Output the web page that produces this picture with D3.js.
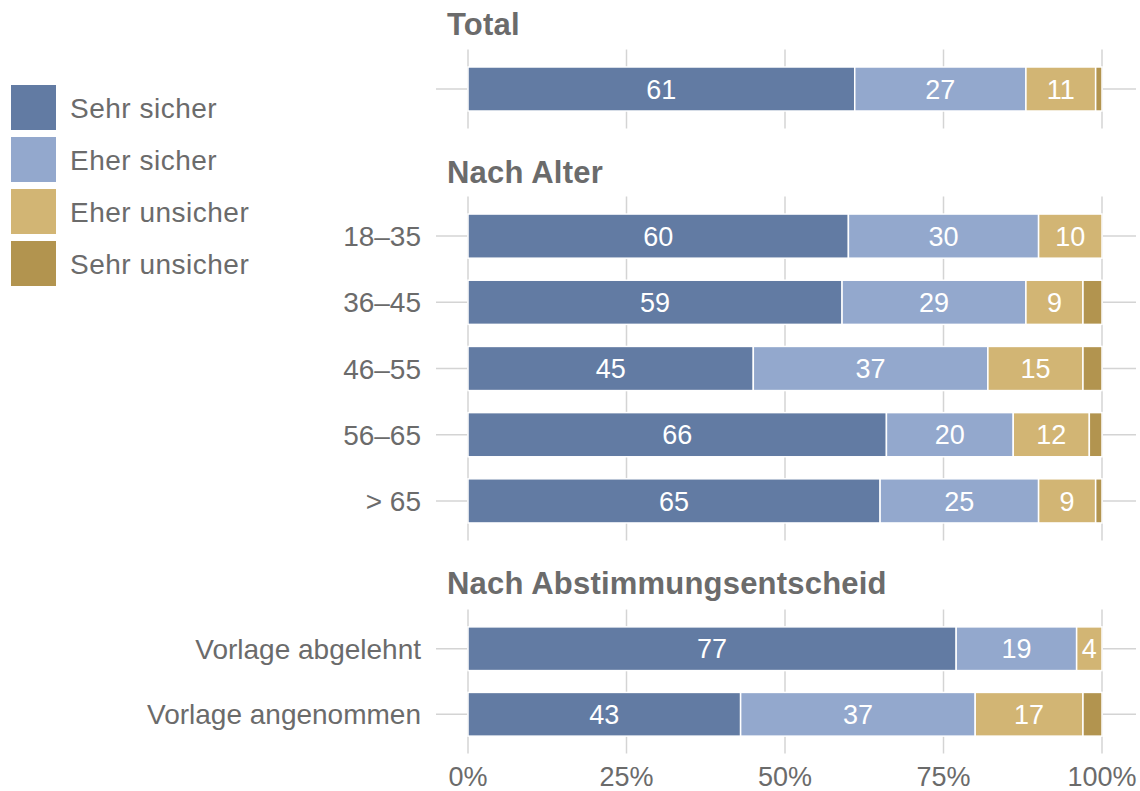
<!DOCTYPE html>
<html>
<head>
<meta charset="utf-8">
<script src="https://cdn.jsdelivr.net/npm/d3@7"></script>
<style>
  body { margin: 0; background: #fff; }
  text { font-family: "Liberation Sans", Arial, sans-serif; }
</style>
</head>
<body>
<div id="chart"></div>
<script>
// series (stacked left to right)
const seriesNames = ["Sehr sicher", "Eher sicher", "Eher unsicher", "Sehr unsicher"];
const seriesColors = ["#627ba3", "#93a8cd", "#d2b574", "#b2944f"];

// panels and rows
const panelTitles = ["Total", "Nach Alter", "Nach Abstimmungsentscheid"];
const rowLabels = ["", "18–35", "36–45", "46–55", "56–65", "> 65", "Vorlage abgelehnt", "Vorlage angenommen"];
const rowPanel = [0, 1, 1, 1, 1, 1, 2, 2];

// values in percent
const sehrSicher   = [61, 60, 59, 45, 66, 65, 77, 43];
const eherSicher   = [27, 30, 29, 37, 20, 25, 19, 37];
const eherUnsicher = [11, 10,  9, 15, 12,  9,  4, 17];
const sehrUnsicher = [ 1,  0,  3,  3,  2,  1,  0,  3];

const xTicks = [0, 25, 50, 75, 100];

const width = 1140, height = 791;
const svg = d3.select('#chart').append('svg')
    .attr('width', width)
    .attr('height', height);

const x = d3.scaleLinear().domain([0, 100]).range([468, 1102]);

// vertical extent of each panel's plot area
const panelRange = [[49.5, 128.5], [196.5, 540.5], [609.5, 753.5]];
const titleY = [35, 183, 594];

const rows = rowLabels.map((label, i) => ({
    id: i,
    label: label,
    panel: rowPanel[i],
    values: [sehrSicher[i], eherSicher[i], eherUnsicher[i], sehrUnsicher[i]]
}));

const grid = '#d4d4d4';
const textColor = '#6b6b6b';

panelTitles.forEach((title, p) => {
    const panelRows = rows.filter(r => r.panel === p);
    const y = d3.scaleBand()
        .domain(panelRows.map(r => r.id))
        .range(panelRange[p])
        .paddingInner(0.333)
        .paddingOuter(0.265);

    const g = svg.append('g');

    // title
    g.append('text')
        .attr('x', 447)
        .attr('y', titleY[p])
        .attr('fill', textColor)
        .attr('font-size', 31)
        .attr('font-weight', 'bold')
        .attr('letter-spacing', 0.2)
        .text(title);

    // vertical gridlines
    g.append('g')
        .selectAll('line')
        .data(xTicks)
        .enter().append('line')
        .attr('x1', d => x(d))
        .attr('x2', d => x(d))
        .attr('y1', panelRange[p][0])
        .attr('y2', panelRange[p][1])
        .attr('stroke', grid)
        .attr('stroke-width', 1.5);

    // horizontal gridlines
    g.append('g')
        .selectAll('line')
        .data(panelRows)
        .enter().append('line')
        .attr('x1', 436)
        .attr('x2', 1136)
        .attr('y1', d => y(d.id) + y.bandwidth() / 2)
        .attr('y2', d => y(d.id) + y.bandwidth() / 2)
        .attr('stroke', grid)
        .attr('stroke-width', 1.5);

    // row labels
    g.append('g')
        .selectAll('text')
        .data(panelRows)
        .enter().append('text')
        .attr('x', 421)
        .attr('y', d => y(d.id) + y.bandwidth() / 2)
        .attr('dy', '0.36em')
        .attr('text-anchor', 'end')
        .attr('fill', textColor)
        .attr('font-size', 28)
        .text(d => d.label);

    // stacked segments
    panelRows.forEach(r => {
        let acc = 0;
        const segs = r.values.map((v, k) => {
            const s = { x0: acc, x1: acc + v, v: v, k: k };
            acc += v;
            return s;
        }).filter(s => s.v > 0);

        const rg = g.append('g');
        rg.selectAll('rect')
            .data(segs)
            .enter().append('rect')
            .attr('x', s => x(s.x0))
            .attr('width', s => x(s.x1) - x(s.x0))
            .attr('y', y(r.id))
            .attr('height', y.bandwidth())
            .attr('fill', s => seriesColors[s.k])
            .attr('stroke', '#fff')
            .attr('stroke-width', 1.5);

        rg.selectAll('text')
            .data(segs.filter(s => s.v >= 4))
            .enter().append('text')
            .attr('x', s => (x(s.x0) + x(s.x1)) / 2)
            .attr('y', y(r.id) + y.bandwidth() / 2)
            .attr('dy', '0.36em')
            .attr('text-anchor', 'middle')
            .attr('fill', '#fff')
            .attr('font-family', '"Liberation Sans Narrow", "Liberation Sans", sans-serif')
            .attr('font-size', 27)
            .text(s => s.v);
    });
});

// bottom axis labels
svg.append('g')
    .selectAll('text')
    .data(xTicks)
    .enter().append('text')
    .attr('x', d => x(d))
    .attr('y', 776)
    .attr('dy', '0.36em')
    .attr('text-anchor', 'middle')
    .attr('fill', textColor)
    .attr('font-size', 27)
    .attr('font-family', '"Liberation Sans Narrow", "Liberation Sans", sans-serif')
    .text(d => d + '%');

// legend
const legend = svg.append('g');
seriesNames.forEach((name, i) => {
    legend.append('rect')
        .attr('x', 11)
        .attr('y', 85 + i * 52)
        .attr('width', 45)
        .attr('height', 45)
        .attr('fill', seriesColors[i]);
    legend.append('text')
        .attr('x', 70)
        .attr('y', 107.5 + i * 52)
        .attr('dy', '0.36em')
        .attr('fill', textColor)
        .attr('font-size', 28)
        .attr('letter-spacing', 0.5)
        .text(name);
});
</script>
</body>
</html>
